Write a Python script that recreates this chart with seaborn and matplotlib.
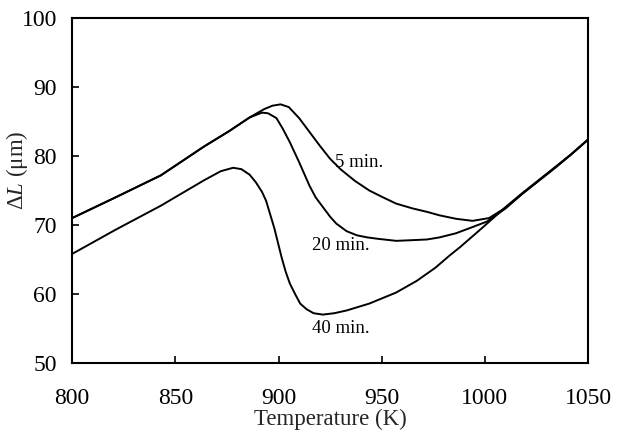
import matplotlib
matplotlib.use("Agg")
import matplotlib.pyplot as plt
import seaborn as sns
import pandas as pd

# ---- data ----
t_5 = [800, 821, 843, 864, 876, 886, 893, 897, 901, 905, 910, 915, 920, 925, 930,
       937, 944, 950, 957, 965, 972, 978, 986, 994, 1002, 1010, 1018, 1026, 1034, 1042, 1050]
dl_5 = [71.0, 74.0, 77.2, 81.4, 83.6, 85.6, 86.8, 87.3, 87.5, 87.1, 85.5, 83.5, 81.5, 79.6, 78.1,
        76.4, 75.0, 74.1, 73.1, 72.4, 71.9, 71.4, 70.9, 70.6, 71.0, 72.5, 74.5, 76.4, 78.3, 80.3, 82.4]

t_20 = [800, 821, 843, 864, 876, 886, 892, 895, 899, 902, 905.5, 910, 915, 918, 921.5, 925, 928,
        933, 938, 943, 948, 957, 965, 972, 978, 986, 994, 1001, 1010, 1018, 1026, 1034, 1042, 1050]
dl_20 = [71.0, 74.0, 77.2, 81.4, 83.6, 85.6, 86.3, 86.2, 85.5, 84.0, 82.0, 79.1, 75.7, 74.0, 72.6,
         71.2, 70.2, 69.1, 68.5, 68.2, 68.0, 67.7, 67.8, 67.9, 68.2, 68.8, 69.7, 70.5, 72.4, 74.5,
         76.4, 78.3, 80.3, 82.4]

t_40 = [800, 821, 843, 864, 872, 878, 882, 886, 889, 892, 894, 896, 898, 900, 901.5, 903.5,
        905.5, 908, 910.5, 913.5, 917, 921.5, 927, 933, 944, 957, 967, 976, 983, 988, 993,
        998, 1004, 1010, 1018, 1026, 1034, 1042, 1050]
dl_40 = [65.8, 69.3, 72.8, 76.5, 77.8, 78.3, 78.1, 77.3, 76.2, 74.8, 73.5, 71.5, 69.5, 67.1, 65.3,
         63.2, 61.5, 60.0, 58.6, 57.8, 57.2, 57.0, 57.2, 57.6, 58.6, 60.2, 61.9, 63.8, 65.6,
         66.8, 68.1, 69.4, 71.0, 72.6, 74.6, 76.5, 78.4, 80.3, 82.4]

series_names = ["5 min.", "20 min.", "40 min."]
label_pos = [(927.5, 79.0), (916.0, 67.0), (916.0, 55.0)]

x_ticks = [800, 850, 900, 950, 1000, 1050]
y_ticks = [50, 60, 70, 80, 90, 100]

df = pd.concat([
    pd.DataFrame({"T": t_5, "dL": dl_5, "run": series_names[0]}),
    pd.DataFrame({"T": t_20, "dL": dl_20, "run": series_names[1]}),
    pd.DataFrame({"T": t_40, "dL": dl_40, "run": series_names[2]}),
], ignore_index=True)

sns.set_theme(style="ticks")
plt.rcParams["font.family"] = ["Liberation Serif", "DejaVu Serif"]
plt.rcParams["mathtext.fontset"] = "custom"
plt.rcParams["mathtext.rm"] = "Liberation Serif"
plt.rcParams["mathtext.it"] = "Liberation Serif:italic"

fig = plt.figure(figsize=(6.27, 4.33), dpi=100)
ax = fig.add_axes([0.115, 0.162, 0.823, 0.796])

sns.lineplot(data=df, x="T", y="dL", hue="run", palette=["black"] * 3,
             sort=False, estimator=None, legend=False, ax=ax, linewidth=1.4)

for name, (lx, ly) in zip(series_names, label_pos):
    ax.text(lx, ly, name, fontsize=13.5, ha="left", va="center", color="black")

ax.set_xlim(800, 1050)
ax.set_ylim(50, 100)
ax.set_xticks(x_ticks)
ax.set_yticks(y_ticks)
for s in ax.spines.values():
    s.set_linewidth(1.5)
    s.set_color("black")
ax.tick_params(axis="both", direction="in", length=5, width=1.2, labelsize=17, colors="black")
ax.tick_params(axis="x", pad=18)
ax.tick_params(axis="y", pad=11)

ax.set_xlabel("Temperature (K)", fontsize=16.5, labelpad=0)
ax.set_ylabel(r"$\Delta\mathit{L}$ (μm)", fontsize=16.5)
ax.yaxis.set_label_coords(-0.082, 0.56)

fig.savefig("out.png", dpi=100)
